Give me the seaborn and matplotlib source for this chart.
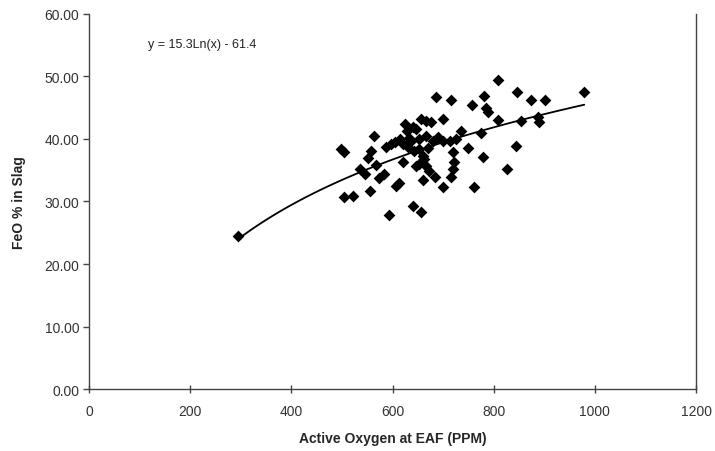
import matplotlib
matplotlib.use("Agg")
import matplotlib.pyplot as plt
import seaborn as sns
import pandas as pd
from matplotlib.ticker import FormatStrFormatter

sns.set_theme(style="white")
plt.rcParams['font.family'] = ['Liberation Sans', 'DejaVu Sans']

active_oxygen = [295, 499, 505, 505, 522, 535, 545, 551, 555, 558, 564, 568, 574, 584,
                 588, 594, 597, 604, 607, 612, 614, 620, 620, 624, 628, 630, 633, 637,
                 640, 640, 643, 647, 647, 653, 653, 653, 657, 657, 660, 660, 663, 666,
                 666, 666, 670, 673, 676, 680, 683, 686, 690, 699, 699, 699, 713, 716,
                 716, 719, 719, 722, 726, 735, 750, 758, 762, 775, 778, 780, 785, 788,
                 808, 808, 826, 845, 847, 854, 874, 887, 889, 902, 979]
feo_slag = [24.5, 38.4, 37.9, 30.7, 30.9, 35.2, 34.4, 37.0, 31.6, 38.0, 40.5, 35.8, 33.7, 34.4,
            38.7, 27.8, 39.2, 39.5, 32.5, 33.0, 40.0, 36.3, 39.2, 42.4, 41.2, 38.7, 40.2, 39.7,
            41.9, 29.3, 38.0, 41.6, 35.7, 40.0, 38.4, 36.0, 43.2, 28.3, 37.3, 33.4, 36.8, 42.9,
            40.5, 35.7, 38.5, 34.9, 42.7, 39.7, 33.9, 46.7, 40.3, 43.2, 39.6, 32.3, 39.6, 46.3,
            33.9, 37.9, 35.2, 36.3, 40.0, 41.2, 38.5, 45.5, 32.3, 40.9, 37.1, 46.8, 45.0, 44.3,
            49.5, 43.1, 35.2, 38.9, 47.5, 42.9, 46.3, 43.5, 42.7, 46.3, 47.5]

x_ticks = [0, 200, 400, 600, 800, 1000, 1200]
y_ticks = [0, 10, 20, 30, 40, 50, 60]
equation_label = "y = 15.3Ln(x) - 61.4"

df = pd.DataFrame({"oxygen": active_oxygen, "feo": feo_slag})

fig = plt.figure(figsize=(7.15, 4.52), dpi=100)
ax = fig.add_axes([0.1245, 0.137, 0.849, 0.830])

sns.scatterplot(data=df, x="oxygen", y="feo", marker="D", s=36, color="black",
                edgecolor="black", linewidth=0, ax=ax, zorder=3)
sns.regplot(data=df, x="oxygen", y="feo", logx=True, ci=None, scatter=False,
            truncate=True, color="black", line_kws={"linewidth": 1.3}, ax=ax)

ax.set_xlim(0, 1200)
ax.set_ylim(0, 60)
ax.set_xticks(x_ticks)
ax.set_yticks(y_ticks)
ax.yaxis.set_major_formatter(FormatStrFormatter('%.2f'))

ax.spines["top"].set_visible(False)
for s in ["left", "bottom", "right"]:
    ax.spines[s].set_visible(True)
    ax.spines[s].set_color("#444444")
    ax.spines[s].set_linewidth(1.0)

ax.tick_params(axis="x", direction="inout", length=6, width=1, color="#444444",
               labelsize=10, labelcolor="#333333", pad=8, bottom=True)
ax.tick_params(axis="y", direction="out", length=4, width=1, color="#444444",
               labelsize=10, labelcolor="#333333", pad=3, left=True)

ax.set_xlabel("Active Oxygen at EAF (PPM)", fontsize=10, fontweight="bold", labelpad=9)
ax.set_ylabel("FeO % in Slag", fontsize=10, fontweight="bold", labelpad=13)

ax.text(116, 55.2, equation_label, fontsize=9, color="#222222", va="center", ha="left")

fig.savefig("out.png", dpi=100)
